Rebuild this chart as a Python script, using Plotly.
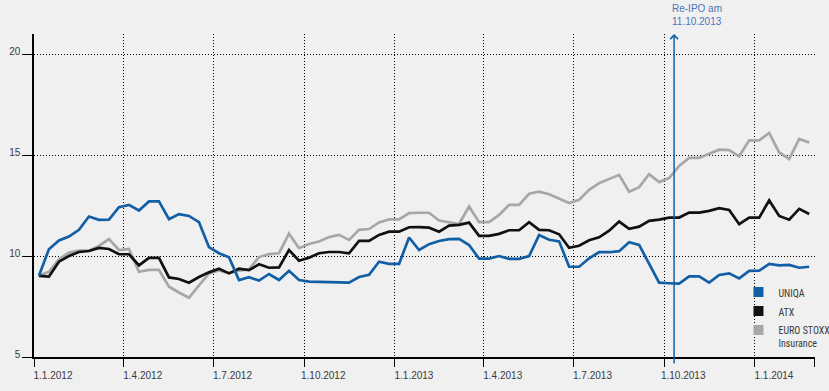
import pandas as pd
import plotly.graph_objects as go

# ---- data -------------------------------------------------------------
first_date = "2012-01-06"
last_date = "2014-02-25"
n_points = 78

uniqa = [9.03, 10.35, 10.78, 10.98, 11.31, 11.97, 11.81, 11.82, 12.44, 12.55,
         12.27, 12.72, 12.72, 11.84, 12.09, 12.00, 11.69, 10.45, 10.15, 9.95,
         8.82, 8.96, 8.79, 9.12, 8.82, 9.28, 8.82, 8.74, 8.73, 8.72,
         8.71, 8.69, 8.97, 9.08, 9.73, 9.62, 9.62, 10.93, 10.31, 10.60,
         10.76, 10.85, 10.86, 10.56, 9.88, 9.88, 10.01, 9.87, 9.87, 10.01,
         11.05, 10.82, 10.74, 9.48, 9.48, 9.90, 10.20, 10.20, 10.25, 10.70,
         10.56, 9.62, 8.69, 8.66, 8.64, 9.00, 9.00, 8.69, 9.07, 9.15,
         8.90, 9.27, 9.28, 9.62, 9.55, 9.57, 9.43, 9.48]

atx = [9.03, 8.99, 9.73, 10.01, 10.21, 10.26, 10.41, 10.36, 10.10, 10.10,
       9.55, 9.92, 9.92, 8.95, 8.87, 8.69, 8.97, 9.20, 9.38, 9.15,
       9.38, 9.31, 9.60, 9.43, 9.45, 10.31, 9.78, 9.93, 10.15, 10.21,
       10.21, 10.15, 10.76, 10.76, 11.06, 11.22, 11.22, 11.44, 11.45, 11.42,
       11.22, 11.52, 11.56, 11.67, 11.01, 11.01, 11.11, 11.29, 11.29, 11.69,
       11.31, 11.29, 11.09, 10.42, 10.52, 10.79, 10.94, 11.27, 11.72, 11.36,
       11.47, 11.76, 11.82, 11.92, 11.92, 12.17, 12.17, 12.25, 12.39, 12.30,
       11.59, 11.92, 11.92, 12.77, 12.00, 11.81, 12.35, 12.10]

euro_stoxx = [9.03, 9.23, 9.85, 10.18, 10.28, 10.28, 10.51, 10.85, 10.31, 10.36,
              9.23, 9.32, 9.32, 8.49, 8.20, 7.94, 8.55, 9.15, 9.30, 9.16,
              9.28, 9.35, 9.96, 10.11, 10.15, 11.12, 10.40, 10.61, 10.73, 10.95,
              11.06, 10.81, 11.31, 11.35, 11.68, 11.83, 11.83, 12.14, 12.16, 12.16,
              11.77, 11.69, 11.60, 12.47, 11.69, 11.69, 12.05, 12.55, 12.55, 13.10,
              13.21, 13.08, 12.84, 12.64, 12.80, 13.30, 13.63, 13.83, 14.04, 13.20,
              13.43, 14.07, 13.68, 13.88, 14.48, 14.88, 14.88, 15.09, 15.29, 15.27,
              14.96, 15.75, 15.75, 16.12, 15.15, 14.83, 15.82, 15.65]

tick_dates = ["2012-01-01", "2012-04-01", "2012-07-01", "2012-10-01", "2013-01-01",
              "2013-04-01", "2013-07-01", "2013-10-01", "2014-01-01"]
tick_labels = ["1.1.2012", "1.4.2012", "1.7.2012", "1.10.2012", "1.1.2013",
               "1.4.2013", "1.7.2013", "1.10.2013", "1.1.2014"]
y_ticks = [5, 10, 15, 20]
ipo_date = "2013-10-11"
ipo_text = "Re-IPO am<br>11.10.2013"

series_names = ["UNIQA", "ATX", "EURO STOXX<br>Insurance"]
# ----------------------------------------------------------------------

dates = pd.date_range(first_date, last_date, periods=n_points)

BLUE = "#135fa5"
BLACK = "#111111"
GREY = "#a7a7a7"
BG = "#f0f0f0"
TXT = "#3a3a3a"

fig = go.Figure()
for vals, col in [(euro_stoxx, GREY), (atx, BLACK), (uniqa, BLUE)]:
    fig.add_trace(go.Scatter(x=dates, y=vals, mode="lines",
                             line=dict(color=col, width=2.7),
                             showlegend=False, hoverinfo="skip"))

for name, col in zip(series_names, [BLUE, BLACK, GREY]):
    fig.add_trace(go.Scatter(x=[None], y=[None], mode="markers", name=name,
                             marker=dict(symbol="square", size=10, color=col)))

# Re-IPO marker line with arrow
fig.add_annotation(x=ipo_date, y=21.03, xref="x", yref="y",
                   ax=ipo_date, ay=4.6, axref="x", ayref="y",
                   text="", showarrow=True, arrowhead=4, arrowsize=1,
                   arrowwidth=1.5, arrowcolor=BLUE, standoff=0)
fig.add_annotation(x=ipo_date, y=1, xref="x", yref="paper",
                   xanchor="left", yanchor="bottom", xshift=-4, yshift=5,
                   text=ipo_text, showarrow=False, align="left",
                   font=dict(family="Liberation Sans, Arial, sans-serif",
                             size=10, color="#4f72b8"))

grid = dict(showgrid=True, gridcolor="black", gridwidth=1, griddash="1px,2px",
            showline=True, linecolor="black", linewidth=1.5,
            ticks="outside", tickcolor="black", tickwidth=1.2, zeroline=False,
            automargin=False,
            tickfont=dict(family="Liberation Sans, Arial, sans-serif",
                          size=10, color=TXT))

fig.update_xaxes(type="date", range=["2012-01-01", "2014-03-02 21:00"],
                 tickmode="array", tickvals=tick_dates, ticktext=tick_labels,
                 ticklen=8, ticklabelshift=19,
                 minor=dict(tickmode="array", tickvals=["2014-03-02 18:00"],
                            ticks="outside", ticklen=8, tickcolor="black",
                            tickwidth=1.2, showgrid=False),
                 **grid)
fig.update_yaxes(range=[5, 21.03], tickmode="array", tickvals=y_ticks,
                 ticklen=10, ticklabelshift=-3, **grid)

fig.update_layout(
    width=829, height=391, autosize=False,
    margin=dict(l=34, r=14, t=34, b=34, autoexpand=False),
    paper_bgcolor=BG, plot_bgcolor=BG,
    showlegend=True,
    legend=dict(x=0.902, y=0.2415, xanchor="left", yanchor="top",
                bgcolor="rgba(0,0,0,0)", valign="top",
                font=dict(family="Liberation Sans Narrow, Arial Narrow, Roboto Condensed, sans-serif",
                          size=10, color=TXT),
                tracegroupgap=0),
    hovermode=False,
)

fig.write_html(
    "out.html",
    config={"displayModeBar": False},
    post_script="document.body.style.margin='0';document.body.style.background='#f0f0f0';",
)
